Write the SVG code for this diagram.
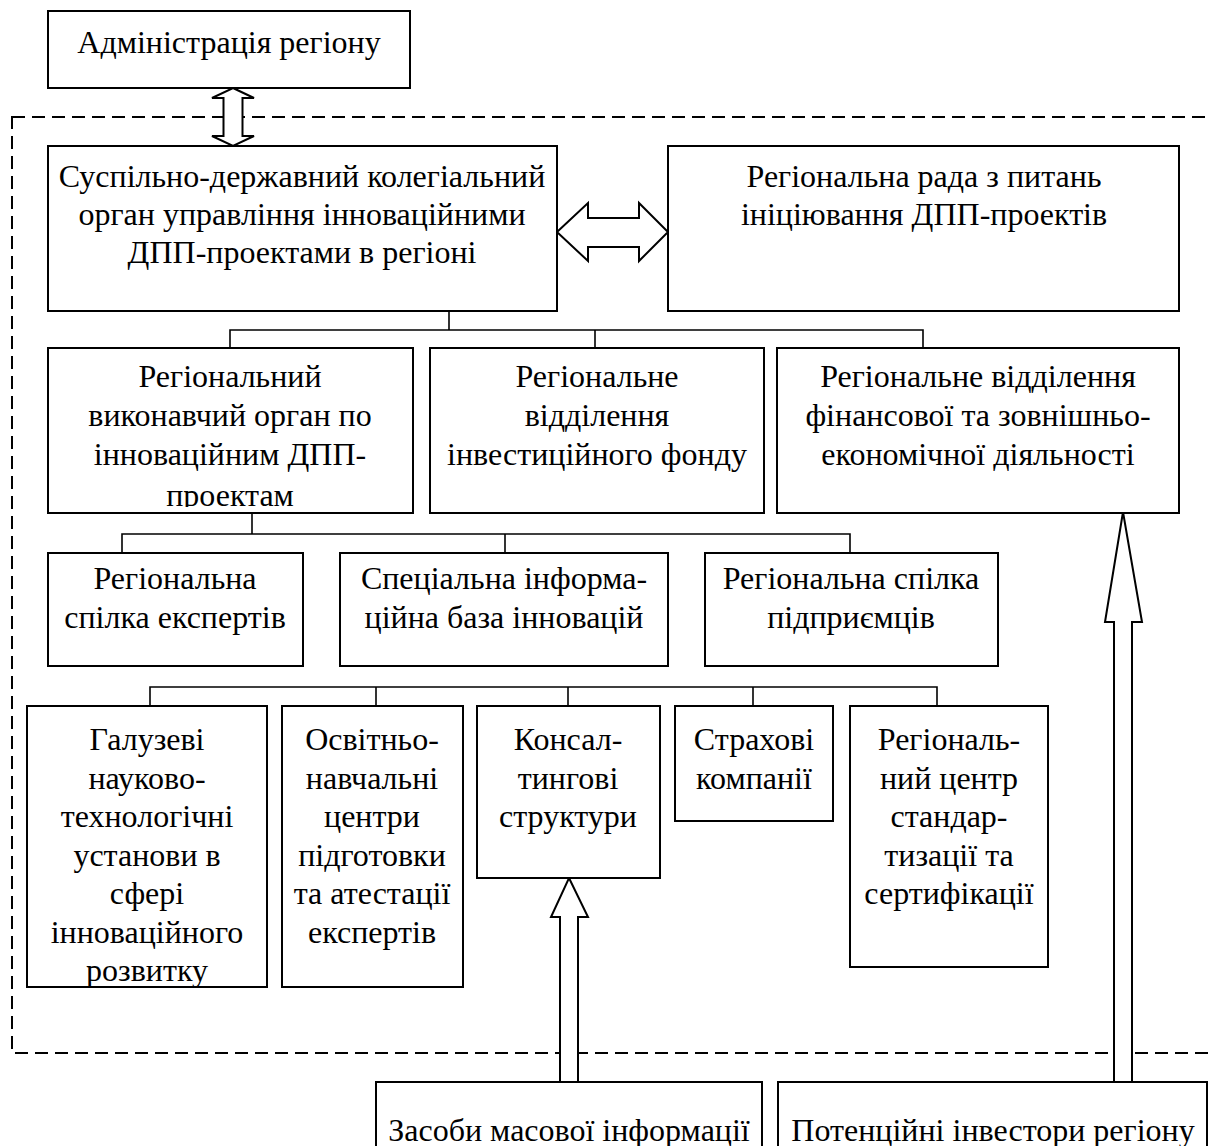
<svg xmlns="http://www.w3.org/2000/svg" width="1209" height="1146" viewBox="0 0 1209 1146">
<style>
.box{fill:#fff;stroke:#000;stroke-width:2}
.t{font-family:"Liberation Serif","Times New Roman",serif;font-size:32px;fill:#000;text-anchor:middle}
.c{fill:none;stroke:#000;stroke-width:1.6}
.arr{fill:#fff;stroke:#000;stroke-width:2;stroke-linejoin:miter}
.dash{fill:none;stroke:#000;stroke-width:2;stroke-dasharray:13 7}
</style>
<defs>
<clipPath id="clipA"><rect x="48" y="348" width="365" height="159"/></clipPath>
</defs>
<rect width="1209" height="1146" fill="#fff"/>
<rect class="dash" x="12" y="117" width="1230" height="936"/>
<g id="connectors">
<polyline class="c" points="449,311 449,330"/>
<polyline class="c" points="230,348 230,330 923,330 923,348"/>
<polyline class="c" points="595,330 595,348"/>
<polyline class="c" points="252,513 252,534"/>
<polyline class="c" points="122,553 122,534 850,534 850,553"/>
<polyline class="c" points="505,534 505,553"/>
<polyline class="c" points="150,706 150,687 937,687 937,706"/>
<polyline class="c" points="376,687 376,706"/>
<polyline class="c" points="568,687 568,706"/>
<polyline class="c" points="753,687 753,706"/>
<polygon class="arr" points="233,88 254,98 242.5,98 242.5,136 254,136 233,146 212,136 223.5,136 223.5,98 212,98"/>
<polygon class="arr" points="557,232 588,203 588,218 639,218 639,203 668,232 639,261 639,247 588,247 588,261"/>
<polygon class="arr" points="569,878 588,917 578,917 578,1082 560,1082 560,917 551,917"/>
<polygon class="arr" points="1123,512 1142,622 1132,622 1132,1082 1114,1082 1114,622 1105,622"/>
</g>
<g id="admin"><rect class="box" x="48" y="11" width="362" height="77"/><text class="t" x="229" y="53">Адміністрація регіону</text></g>
<g id="organ"><rect class="box" x="48" y="146" width="509" height="165"/>
<text class="t"><tspan x="302" y="187">Суспільно-державний колегіальний</tspan><tspan x="302" y="225">орган управління інноваційними</tspan><tspan x="302" y="263">ДПП-проектами в регіоні</tspan></text></g>
<g id="rada"><rect class="box" x="668" y="146" width="511" height="165"/>
<text class="t"><tspan x="924" y="187">Регіональна рада з питань</tspan><tspan x="924" y="225">ініціювання ДПП-проектів</tspan></text></g>
<g id="vykon"><rect class="box" x="48" y="348" width="365" height="165"/>
<text class="t" clip-path="url(#clipA)"><tspan x="230" y="387">Регіональний</tspan><tspan x="230" y="426">виконавчий орган по</tspan><tspan x="230" y="465">інноваційним ДПП-</tspan><tspan x="230" y="506">проектам</tspan></text></g>
<g id="fond"><rect class="box" x="430" y="348" width="334" height="165"/>
<text class="t"><tspan x="597" y="387">Регіональне</tspan><tspan x="597" y="426">відділення</tspan><tspan x="597" y="465">інвестиційного фонду</tspan></text></g>
<g id="finans"><rect class="box" x="777" y="348" width="402" height="165"/>
<text class="t"><tspan x="978" y="387">Регіональне відділення</tspan><tspan x="978" y="426">фінансової та зовнішньо-</tspan><tspan x="978" y="465">економічної діяльності</tspan></text></g>
<g id="experts"><rect class="box" x="48" y="553" width="255" height="113"/>
<text class="t"><tspan x="175" y="589">Регіональна</tspan><tspan x="175" y="628">спілка експертів</tspan></text></g>
<g id="baza"><rect class="box" x="340" y="553" width="328" height="113"/>
<text class="t"><tspan x="504" y="589">Спеціальна інформа-</tspan><tspan x="504" y="628">ційна база інновацій</tspan></text></g>
<g id="pidpr"><rect class="box" x="705" y="553" width="293" height="113"/>
<text class="t"><tspan x="851" y="589">Регіональна спілка</tspan><tspan x="851" y="628">підприємців</tspan></text></g>
<g id="galuz"><rect class="box" x="27" y="706" width="240" height="281"/>
<text class="t"><tspan x="147" y="750">Галузеві</tspan><tspan x="147" y="788.5">науково-</tspan><tspan x="147" y="827">технологічні</tspan><tspan x="147" y="865.5">установи в</tspan><tspan x="147" y="904">сфері</tspan><tspan x="147" y="942.5">інноваційного</tspan><tspan x="147" y="981">розвитку</tspan></text></g>
<g id="osvit"><rect class="box" x="282" y="706" width="181" height="281"/>
<text class="t"><tspan x="372" y="750">Освітньо-</tspan><tspan x="372" y="788.5">навчальні</tspan><tspan x="372" y="827">центри</tspan><tspan x="372" y="865.5">підготовки</tspan><tspan x="372" y="904">та атестації</tspan><tspan x="372" y="942.5">експертів</tspan></text></g>
<g id="konsal"><rect class="box" x="477" y="706" width="183" height="172"/>
<text class="t"><tspan x="568" y="750">Консал-</tspan><tspan x="568" y="788.5">тингові</tspan><tspan x="568" y="827">структури</tspan></text></g>
<g id="strakh"><rect class="box" x="675" y="706" width="158" height="115"/>
<text class="t"><tspan x="754" y="750">Страхові</tspan><tspan x="754" y="788.5">компанії</tspan></text></g>
<g id="standart"><rect class="box" x="850" y="706" width="198" height="261"/>
<text class="t"><tspan x="949" y="750">Регіональ-</tspan><tspan x="949" y="788.5">ний центр</tspan><tspan x="949" y="827">стандар-</tspan><tspan x="949" y="865.5">тизації та</tspan><tspan x="949" y="904">сертифікації</tspan></text></g>
<g id="zmi"><rect class="box" x="376" y="1082" width="386" height="80"/><text class="t" x="569" y="1141">Засоби масової інформації</text></g>
<g id="investory"><rect class="box" x="778" y="1082" width="429" height="80"/><text class="t" x="993" y="1141">Потенційні інвестори регіону</text></g>
</svg>
